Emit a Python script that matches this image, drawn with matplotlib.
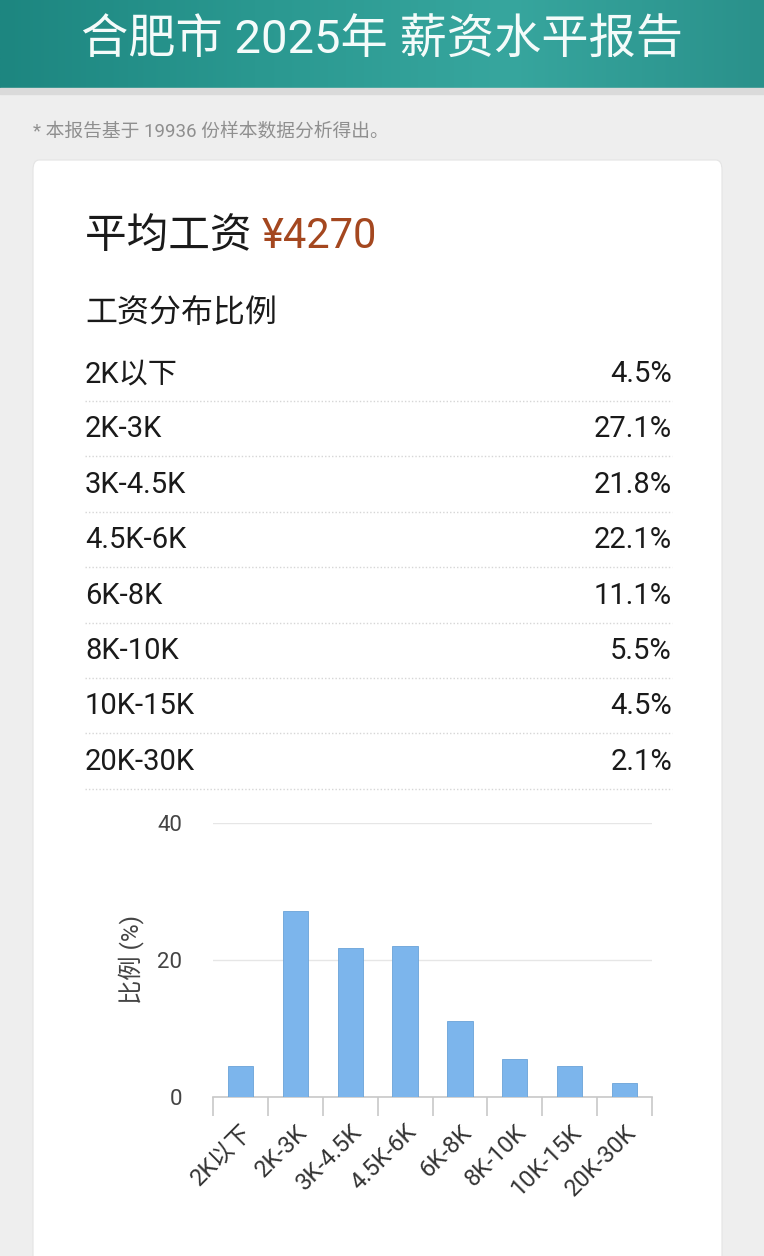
# Hefei 2025 salary report - recreated as a single matplotlib figure
import numpy as np
import matplotlib.pyplot as plt
from matplotlib.patches import FancyBboxPatch, Rectangle
from matplotlib.lines import Line2D
from matplotlib.colors import LinearSegmentedColormap

plt.rcParams["font.family"] = ["Roboto", "Noto Sans CJK SC", "DejaVu Sans"]

# --- data ---
categories = ["2K以下", "2K-3K", "3K-4.5K", "4.5K-6K", "6K-8K", "8K-10K", "10K-15K", "20K-30K"]
shares = [4.5, 27.1, 21.8, 22.1, 11.1, 5.5, 4.5, 2.1]
share_labels = ["4.5%", "27.1%", "21.8%", "22.1%", "11.1%", "5.5%", "4.5%", "2.1%"]
y_ticks = [0, 20, 40]
title = "合肥市 2025年 薪资水平报告"
note = "* 本报告基于 19936 份样本数据分析得出。"
avg_label = "平均工资 "
avg_value = "¥4270"

W, H = 764, 1256
fig = plt.figure(figsize=(W / 100, H / 100), dpi=100)
fig.patch.set_facecolor("#eeeeee")


def fy(y):
    # pixel row (from top) -> figure fraction
    return 1 - y / H


def fx(x):
    return x / W


# --- header band ---
hdr = fig.add_axes([0, fy(88), 1, 88 / H])
grad = np.linspace(0, 1, 256).reshape(1, -1)
teal = LinearSegmentedColormap.from_list("teal", ["#1d8680", "#2a9890", "#37a69e", "#2a918b"])
hdr.imshow(grad, aspect="auto", cmap=teal, extent=[0, 1, 0, 1])
hdr.set_axis_off()
# soft shadow under header
fig.patches.append(Rectangle((0, fy(94)), 1, 6 / H, transform=fig.transFigure,
                             color="#dadada", zorder=0))
fig.text(0.5, fy(41), title, color="#f4fbfa", fontsize=34, ha="center", va="center")

# --- note ---
fig.text(fx(33), fy(131), note, color="#8f8f8f", fontsize=13.5, ha="left", va="center")

# --- white card ---
card = FancyBboxPatch((fx(33), fy(1275)), fx(722 - 33), (1275 - 160) / H,
                      boxstyle="round,pad=0,rounding_size=0.008",
                      transform=fig.transFigure, facecolor="white",
                      edgecolor="#e4e4e4", linewidth=0.8, zorder=1)
fig.patches.append(card)

# average salary
t = fig.text(fx(85), fy(236), avg_label, color="#1a1a1a", fontsize=30, ha="left", va="center", zorder=3)
fig.canvas.draw()
bb = t.get_window_extent()
fig.text(bb.x1 / W, fy(236), avg_value, color="#a4471f", fontsize=30, ha="left", va="center", zorder=3)

fig.text(fx(85), fy(313), "工资分布比例", color="#1a1a1a", fontsize=23, ha="left", va="center", zorder=3)

# distribution rows
row_y0, row_step = 374, 55.4
for i, (cat, lab) in enumerate(zip(categories, share_labels)):
    y = row_y0 + i * row_step
    fig.text(fx(85), fy(y), cat, color="#1a1a1a", fontsize=21, ha="left", va="center", zorder=3)
    fig.text(fx(672), fy(y), lab, color="#1a1a1a", fontsize=21, ha="right", va="center", zorder=3)
    fig.add_artist(Line2D([fx(85), fx(672)], [fy(y + 27), fy(y + 27)], transform=fig.transFigure,
                          color="#d6d6d6", linewidth=1, linestyle=(0, (1, 1.5)), zorder=3))

# --- bar chart ---
ax = fig.add_axes([fx(213), fy(1097), fx(652 - 213), (1097 - 823) / H], zorder=4)
ax.patch.set_alpha(0)
x = np.arange(len(categories))
ax.bar(x, shares, width=0.46, color="#7cb5ec", edgecolor="#6aa3d8", linewidth=0.6, zorder=3)
ax.set_xlim(-0.5, len(categories) - 0.5)
ax.set_ylim(0, 40)
ax.set_yticks(y_ticks)
ax.yaxis.grid(True, color="#e6e6e6", linewidth=1)
ax.set_axisbelow(True)
for s in ["top", "right", "left"]:
    ax.spines[s].set_visible(False)
ax.spines["bottom"].set_color("#c8c8c8")
ax.spines["bottom"].set_linewidth(1.2)
ax.tick_params(axis="y", length=0, pad=22, labelsize=16, labelcolor="#444444")

# boundary ticks as minor ticks, category labels on major ticks
ax.set_xticks(np.arange(-0.5, len(categories), 1.0), minor=True)
ax.set_xticks(x)
ax.set_xticklabels(categories, rotation=45, ha="right", rotation_mode="anchor",
                   fontsize=17, color="#333333")
ax.tick_params(axis="x", which="major", length=0, pad=17)
ax.tick_params(axis="x", which="minor", length=14, width=1.2, color="#c8c8c8")
ax.set_ylabel("比例 (%)", fontsize=17.5, color="#444444", labelpad=10)

plt.savefig("out.png", dpi=100, facecolor=fig.get_facecolor())
plt.close()
